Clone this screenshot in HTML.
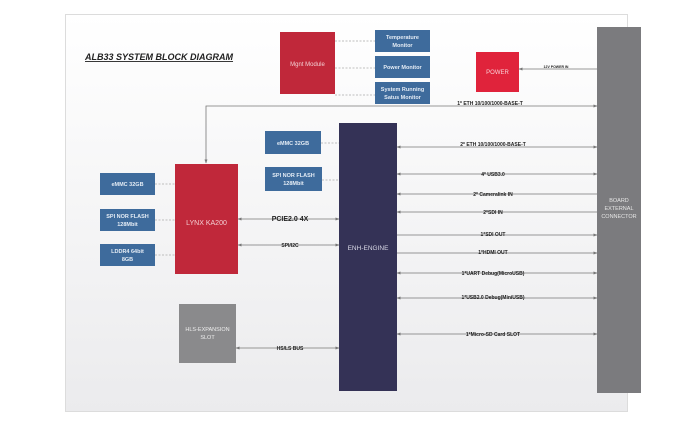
<!DOCTYPE html>
<html><head><meta charset="utf-8"><style>
html,body{margin:0;padding:0;background:#fff;width:700px;height:427px;overflow:hidden}
text{font-family:"Liberation Sans",sans-serif}
</style></head><body>
<svg width="700" height="427" viewBox="0 0 700 427" xmlns="http://www.w3.org/2000/svg">
<defs>
<linearGradient id="bg" x1="0" y1="0" x2="0" y2="1">
<stop offset="0" stop-color="#ffffff"/><stop offset="1" stop-color="#ebebed"/>
</linearGradient>
<marker id="a" markerWidth="4" markerHeight="4" refX="3.5" refY="2" orient="auto-start-reverse" markerUnits="userSpaceOnUse"><path d="M0,0.5 L4,2 L0,3.5z" fill="#777"/></marker>
</defs>
<rect x="65.5" y="14.5" width="562" height="397" fill="url(#bg)" stroke="#dcdcdc"/>
<text x="85" y="60" font-size="9" font-weight="bold" font-style="italic" fill="#222" text-decoration="underline">ALB33 SYSTEM  BLOCK DIAGRAM</text>

<g stroke="#aaa" stroke-width="0.8" stroke-dasharray="2,1.5">
<line x1="335" y1="41" x2="375" y2="41"/><line x1="335" y1="68" x2="375" y2="68"/><line x1="335" y1="95" x2="375" y2="95"/>
<line x1="321" y1="143" x2="339" y2="143"/><line x1="322" y1="180" x2="339" y2="180"/>
<line x1="155" y1="184" x2="175" y2="184"/><line x1="155" y1="220" x2="175" y2="220"/><line x1="155" y1="255" x2="175" y2="255"/>
</g>

<rect x="280" y="32" width="55" height="62" fill="#c0283a"/>
<text x="307.5" y="66" font-size="6" fill="#f3d0d4" text-anchor="middle">Mgnt Module</text>
<g fill="#3e6b9c">
<rect x="375" y="30" width="55" height="22"/><rect x="375" y="56" width="55" height="22"/><rect x="375" y="82" width="55" height="22"/>
<rect x="265" y="131" width="56" height="23"/><rect x="265" y="167" width="57" height="24"/>
<rect x="100" y="173" width="55" height="22"/><rect x="100" y="209" width="55" height="22"/><rect x="100" y="244" width="55" height="22"/>
</g>
<g font-size="5.5" fill="#e4ecf5" text-anchor="middle" font-weight="bold">
<text x="402.5" y="39">Temperature</text><text x="402.5" y="47">Monitor</text>
<text x="402.5" y="69">Power Monitor</text>
<text x="402.5" y="91">System Running</text><text x="402.5" y="99">Satus Monitor</text>
<text x="293" y="145">eMMC 32GB</text>
<text x="293.5" y="177">SPI NOR FLASH</text><text x="293.5" y="185">128Mbit</text>
<text x="127.5" y="186">eMMC 32GB</text>
<text x="127.5" y="218">SPI NOR FLASH</text><text x="127.5" y="226">128Mbit</text>
<text x="127.5" y="253">LDDR4 64bit</text><text x="127.5" y="261">8GB</text>
</g>

<rect x="476" y="52" width="43" height="40" fill="#e0233b"/>
<text x="497.5" y="74" font-size="6" fill="#f7d0d5" text-anchor="middle">POWER</text>
<line x1="519" y1="69" x2="597" y2="69" stroke="#777" stroke-width="0.8" marker-start="url(#a)"/>
<text x="556" y="68" font-size="3.5" font-weight="bold" fill="#222" text-anchor="middle">12V POWER IN</text>

<rect x="597" y="27" width="44" height="366" fill="#7b7b7e"/>
<g font-size="5.5" fill="#e6e6e6" text-anchor="middle"><text x="619" y="202">BOARD</text><text x="619" y="210">EXTERNAL</text><text x="619" y="218">CONNECTOR</text></g>

<polyline points="597,106 206,106 206,163" fill="none" stroke="#777" stroke-width="0.8" marker-start="url(#a)" marker-end="url(#a)"/>
<text x="490" y="105" font-size="5" font-weight="bold" fill="#222" text-anchor="middle">1* ETH 10/100/1000-BASE-T</text>

<rect x="339" y="123" width="58" height="268" fill="#343256"/>
<text x="368" y="250" font-size="6.5" fill="#d8d8e6" text-anchor="middle">ENH-ENGINE</text>

<rect x="175" y="164" width="63" height="110" fill="#c0283a"/>
<text x="206.5" y="225" font-size="7" fill="#f3d0d4" text-anchor="middle">LYNX KA200</text>

<rect x="179" y="304" width="57" height="59" fill="#8a8a8c"/>
<g font-size="5.5" fill="#eee" text-anchor="middle"><text x="207.5" y="331">HLS-EXPANSION</text><text x="207.5" y="339">SLOT</text></g>

<g stroke="#777" stroke-width="0.8" fill="none">
<line x1="397" y1="147" x2="597" y2="147" marker-start="url(#a)" marker-end="url(#a)"/>
<line x1="397" y1="174" x2="597" y2="174" marker-start="url(#a)" marker-end="url(#a)"/>
<line x1="397" y1="194" x2="597" y2="194" marker-start="url(#a)"/>
<line x1="397" y1="212" x2="597" y2="212" marker-start="url(#a)"/>
<line x1="397" y1="235" x2="597" y2="235" marker-end="url(#a)"/>
<line x1="397" y1="253" x2="597" y2="253" marker-end="url(#a)"/>
<line x1="397" y1="273" x2="597" y2="273" marker-start="url(#a)" marker-end="url(#a)"/>
<line x1="397" y1="298" x2="597" y2="298" marker-start="url(#a)" marker-end="url(#a)"/>
<line x1="397" y1="334" x2="597" y2="334" marker-start="url(#a)" marker-end="url(#a)"/>
<line x1="238" y1="219" x2="339" y2="219" marker-start="url(#a)" marker-end="url(#a)"/>
<line x1="238" y1="245" x2="339" y2="245" marker-start="url(#a)" marker-end="url(#a)"/>
<line x1="236" y1="348" x2="339" y2="348" marker-start="url(#a)" marker-end="url(#a)"/>
</g>
<g font-size="5" font-weight="bold" fill="#222" text-anchor="middle">
<text x="493" y="146">2* ETH 10/100/1000-BASE-T</text>
<text x="493" y="176">4* USB3.0</text>
<text x="493" y="196">2* Cameralink IN</text>
<text x="493" y="214">2*SDI IN</text>
<text x="493" y="236">1*SDI OUT</text>
<text x="493" y="254">1*HDMI OUT</text>
<text x="493" y="275">1*UART Debug(MicroUSB)</text>
<text x="493" y="299">1*USB2.0 Debug(MiniUSB)</text>
<text x="493" y="336">1*Micro-SD Card SLOT</text>
<text x="290" y="247">SPI/I2C</text>
<text x="290" y="350">HS/LS BUS</text>
</g>
<text x="290" y="221" font-size="7" font-weight="bold" fill="#222" text-anchor="middle">PCIE2.0 4X</text>
</svg>
</body></html>
